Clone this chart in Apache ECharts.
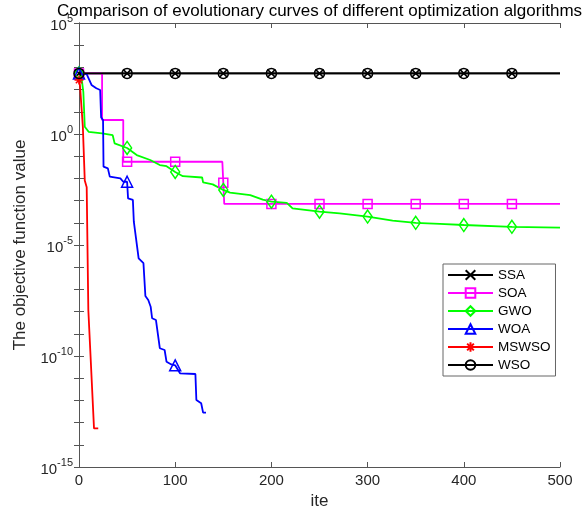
<!DOCTYPE html>
<html>
<head>
<meta charset="utf-8">
<script src="https://cdn.jsdelivr.net/npm/echarts@6/dist/echarts.min.js"></script>
<style>html,body{margin:0;padding:0;background:#fff}#c{width:584px;height:515px}</style>
</head>
<body>
<div id="c"></div>
<script>
// Iterations that carry a marker
const markIters = [0, 50, 100, 150, 200, 250, 300, 350, 400, 450];
const xTicks = [0, 100, 200, 300, 400, 500];
// Values stored as [iteration, log10(objective value)]
const ssaLog = [[0,2.73],[50,2.73],[100,2.73],[150,2.73],[200,2.73],[250,2.73],[300,2.73],[350,2.73],[400,2.73],[450,2.73],[500,2.73]];
const soaLog = [[0,2.73],[24,2.73],[24,0.63],[46,0.63],[46,-1.25],[50,-1.25],[100,-1.25],[149,-1.25],[150,-2.2],[151,-3.15],[200,-3.15],[250,-3.15],[300,-3.15],[350,-3.15],[400,-3.15],[450,-3.15],[500,-3.15]];
const gwoLog = [[0,2.73],[3,2.4],[4.5,1.9],[6,0.33],[10,0.1],[24,0.03],[35,-0.05],[37,-0.42],[50,-0.63],[60,-0.95],[74,-1.17],[84,-1.4],[91,-1.45],[100,-1.71],[108,-1.9],[128,-1.96],[129,-2.18],[139,-2.27],[150,-2.52],[157,-2.64],[178,-2.75],[191,-2.96],[200,-3.05],[216,-3.1],[222,-3.35],[250,-3.5],[271,-3.58],[300,-3.72],[326,-3.9],[350,-4.0],[375,-4.05],[400,-4.1],[450,-4.18],[500,-4.22]];
const woaLog = [[0,2.73],[8,2.7],[10,2.66],[13,2.21],[18,2.06],[22,1.98],[23,0.75],[25,0.63],[25.5,-1.47],[30,-1.55],[32,-1.92],[43,-2.0],[46,-2.15],[50,-2.15],[51,-2.9],[56,-2.97],[57,-3.95],[59,-4.01],[62,-5.6],[67,-5.82],[69,-7.3],[72,-7.48],[74.5,-7.78],[76,-8.3],[80,-8.38],[84,-9.65],[89,-9.73],[91,-10.26],[96,-10.38],[100,-10.42],[105,-10.78],[121,-10.81],[122,-11.98],[127,-12.13],[129,-12.55],[132,-12.55]];
const mswsoLog = [[0,2.43],[1,2.2],[4,0.33],[6,-2.1],[8,-2.4],[9.7,-7.93],[12.2,-10.18],[14.2,-10.26],[15.6,-13.26],[20,-13.26]];
const wsoLog = [[0,2.73],[50,2.73],[100,2.73],[150,2.73],[200,2.73],[250,2.73],[300,2.73],[350,2.73],[400,2.73],[450,2.73],[500,2.73]];

const chart = echarts.init(document.getElementById('c'), null, {renderer: 'canvas'});
const FONT = 'Liberation Sans, Arial, sans-serif';
const AX = '#555';
const LBL = '#262626';

function mk(name, color, symbol, size, arr) {
  return {
    name: name,
    type: 'line',
    data: arr.map(p => [p[0], Math.pow(10, p[1])]),
    color: color,
    symbol: symbol,
    symbolSize: function (v) { return markIters.indexOf(v[0]) >= 0 ? size : 0; },
    showSymbol: true,
    showAllSymbol: true,
    lineStyle: {color: color, width: 1.8},
    itemStyle: {color: 'rgba(0,0,0,0)', borderColor: color, borderWidth: 1.5},
    emphasis: {disabled: true},
    animation: false,
    z: 2
  };
}

const crossPath = 'path://M0,0L10,10M10,0L0,10';
const starPath = 'path://M5,0L5,10M0,5L10,5M1.5,1.5L8.5,8.5M8.5,1.5L1.5,8.5';

const yLabelFmt = function (v) {
  const e = Math.round(Math.log10(v));
  return e % 5 === 0 ? '{b|10}{s|' + e + '}' : '';
};

const option = {
  backgroundColor: '#fff',
  animation: false,
  title: {
    text: 'Comparison of evolutionary curves of different optimization algorithms',
    left: 52, top: -2,
    textStyle: {fontFamily: FONT, fontSize: 17, fontWeight: 'normal', color: '#000'}
  },
  grid: {left: 79, right: 24, top: 23, bottom: 48, containLabel: false},
  legend: {
    orient: 'vertical',
    left: 443, top: 264,
    padding: [3, 5, 3, 4],
    itemWidth: 45, itemHeight: 12, itemGap: 2,
    backgroundColor: '#fff',
    borderColor: '#666', borderWidth: 1,
    selectedMode: false,
    textStyle: {fontFamily: FONT, fontSize: 13.5, color: '#000', lineHeight: 16},
    data: ['SSA', 'SOA', 'GWO', 'WOA', 'MSWSO', 'WSO']
  },
  xAxis: [{
    type: 'value', min: 0, max: 500, interval: 100,
    name: 'ite', nameLocation: 'middle', nameGap: 24,
    nameTextStyle: {fontFamily: FONT, fontSize: 17, color: LBL},
    axisLine: {show: true, lineStyle: {color: AX, width: 1}},
    axisTick: {show: true, inside: true, length: 5, lineStyle: {color: AX}},
    axisLabel: {fontFamily: FONT, fontSize: 15, color: LBL, margin: 6},
    splitLine: {show: false}
  }, {
    type: 'value', min: 0, max: 500, interval: 100, position: 'top',
    axisLine: {show: true, lineStyle: {color: AX, width: 1}},
    axisTick: {show: true, inside: true, length: 5, lineStyle: {color: AX}},
    axisLabel: {show: false}, splitLine: {show: false}
  }],
  yAxis: [{
    type: 'log', logBase: 10, min: 1e-15, max: 1e5, interval: 1, splitNumber: 20,
    name: 'The objective function value', nameLocation: 'middle', nameGap: 50,
    nameTextStyle: {fontFamily: FONT, fontSize: 17, color: LBL},
    axisLine: {show: true, lineStyle: {color: AX, width: 1}},
    axisTick: {show: true, inside: true, length: 5, lineStyle: {color: AX}},
    axisLabel: {
      formatter: yLabelFmt, margin: 6, color: LBL,
      rich: {
        b: {fontFamily: FONT, fontSize: 15, color: LBL, lineHeight: 20, verticalAlign: 'bottom'},
        s: {fontFamily: FONT, fontSize: 11, color: LBL, lineHeight: 20, verticalAlign: 'top'}
      }
    },
    splitLine: {show: false}
  }, {
    type: 'log', logBase: 10, min: 1e-15, max: 1e5, interval: 1, splitNumber: 20, position: 'right',
    axisLine: {show: true, lineStyle: {color: AX, width: 1}},
    axisTick: {show: true, inside: true, length: 5, lineStyle: {color: AX}},
    axisLabel: {show: false}, splitLine: {show: false}
  }],
  series: [
    mk('SSA', '#000000', crossPath, 8, ssaLog),
    mk('SOA', '#ff00ff', 'rect', 9, soaLog),
    mk('GWO', '#00ff00', 'diamond', [9, 13], gwoLog),
    mk('WOA', '#0000ff', 'triangle', 11, woaLog),
    mk('MSWSO', '#ff0000', starPath, 9, mswsoLog),
    mk('WSO', '#000000', 'circle', 10, wsoLog)
  ]
};
chart.setOption(option);
</script>
</body>
</html>
